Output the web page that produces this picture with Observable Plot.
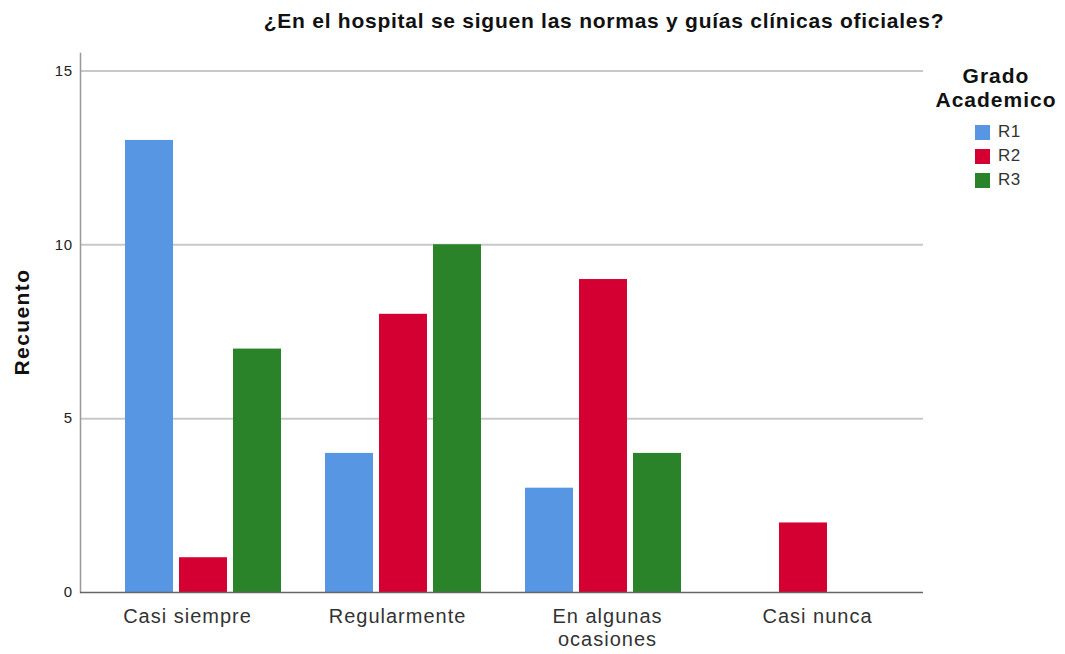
<!DOCTYPE html>
<html>
<head>
<meta charset="utf-8">
<script src="https://cdn.jsdelivr.net/npm/d3@7"></script>
<script src="https://cdn.jsdelivr.net/npm/@observablehq/plot@0.6"></script>
<style>
  html, body { margin: 0; padding: 0; background: #fff; }
  #wrap { position: relative; width: 1065px; height: 654px; font-family: "Liberation Sans", Arial, sans-serif; }
  #back, #front, #base { position: absolute; left: 0; top: 0; }
  #wrap svg g[aria-label="x-axis tick label"] text { letter-spacing: 1px; }
  #wrap svg g[aria-label="y-axis tick label"] text { letter-spacing: 0.5px; }
  #title { position: absolute; top: 8.5px; left: 604px; transform: translateX(-50%); white-space: nowrap;
           font-weight: bold; font-size: 21px; letter-spacing: 0.75px; color: #111; line-height: normal; }
  #ylabel { position: absolute; left: 22px; top: 322px; transform: translate(-50%, -50%) rotate(-90deg);
            white-space: nowrap; font-weight: bold; font-size: 21px; letter-spacing: 1.4px; color: #111; }
  #legend { position: absolute; left: 918px; top: 63.5px; width: 160px; }
  #legend .lt { text-align: center; width: 160px; font-weight: bold; font-size: 21px; letter-spacing: 1px; line-height: 24px; color: #111; margin-left: -2px; }
  #legend .items { margin-top: 8.5px; margin-left: 57px; }
  #legend .it { display: flex; align-items: center; height: 24px; font-size: 17px; letter-spacing: 0.5px; color: #333; }
  #legend .sw { width: 15px; height: 15px; margin-right: 8px; }
</style>
</head>
<body>
<div id="wrap">
  <div id="back"></div>
  <div id="front"></div>
  <div id="base"></div>
  <div id="title"></div>
  <div id="ylabel"></div>
  <div id="legend"></div>
</div>
<script>
const titleText = "¿En el hospital se siguen las normas y guías clínicas oficiales?";
const yLabel = "Recuento";
const legendTitle = "Grado\nAcademico";
const categories = ["Casi siempre", "Regularmente", "En algunas ocasiones", "Casi nunca"];
const categoryLabels = ["Casi siempre", "Regularmente", "En algunas\nocasiones", "Casi nunca"];
const series = ["R1", "R2", "R3"];
const valuesR1 = [13, 4, 3, 0];
const valuesR2 = [1, 8, 9, 2];
const valuesR3 = [7, 10, 4, 0];
const colors = ["#5796E3", "#D50032", "#2A8229"];
const yTicks = [0, 5, 10, 15];

const seriesValues = [valuesR1, valuesR2, valuesR3];
const data = [];
categories.forEach((c, i) => {
  series.forEach((s, j) => {
    data.push({category: c, series: s, value: seriesValues[j][i]});
  });
});
const labelOf = new Map(categories.map((c, i) => [c, categoryLabels[i]]));

const common = {
  width: 1065,
  height: 654,
  marginLeft: 80,
  marginRight: 142,
  marginTop: 53,
  marginBottom: 62,
  y: {domain: [0, 15.5], axis: null}
};

// Background: grid, axes, labels
const back = Plot.plot({
  ...common,
  style: {fontFamily: "'Liberation Sans', Arial, sans-serif", background: "#fff"},
  x: {domain: categories, paddingInner: 0.215, paddingOuter: 0.215, axis: null},
  marks: [
    Plot.gridY(yTicks.slice(1), {stroke: "#c8c8c8", strokeOpacity: 1, strokeWidth: 2}),
    Plot.frame({anchor: "left", stroke: "#999", strokeWidth: 1.5}),
    Plot.axisY(yTicks, {anchor: "left", tickSize: 0, tickPadding: 8, fontSize: 15, fill: "#222", label: null}),
    Plot.axisX({anchor: "bottom", tickSize: 0, tickPadding: 14, fontSize: 20, lineHeight: 1.15, fill: "#333", label: null,
                tickFormat: d => labelOf.get(d)})
  ]
});

// Foreground: grouped bars
const front = Plot.plot({
  ...common,
  marginLeft: 81,
  marginRight: 141,
  style: {background: "transparent"},
  fx: {domain: categories, paddingInner: 0.215, paddingOuter: 0.215, axis: null, label: null},
  x: {domain: series, paddingInner: 0.12, paddingOuter: 0, axis: null},
  color: {domain: series, range: colors},
  marks: [
    Plot.barY(data, {fx: "category", x: "series", y: "value", fill: "series"})
  ]
});

// Baseline over bars
const base = Plot.plot({
  ...common,
  style: {background: "transparent"},
  marks: [Plot.ruleY([0], {stroke: "#666", strokeWidth: 1.5})]
});

document.getElementById("back").appendChild(back);
document.getElementById("front").appendChild(front);
document.getElementById("base").appendChild(base);

document.getElementById("title").textContent = titleText;
document.getElementById("ylabel").textContent = yLabel;

const legend = document.getElementById("legend");
const lt = document.createElement("div");
lt.className = "lt";
lt.innerHTML = legendTitle.split("\n").map(s => `<div>${s}</div>`).join("");
legend.appendChild(lt);
const items = document.createElement("div");
items.className = "items";
series.forEach((s, i) => {
  const it = document.createElement("div");
  it.className = "it";
  it.innerHTML = `<div class="sw" style="background:${colors[i]}"></div><span>${s}</span>`;
  items.appendChild(it);
});
legend.appendChild(items);
</script>
</body>
</html>
